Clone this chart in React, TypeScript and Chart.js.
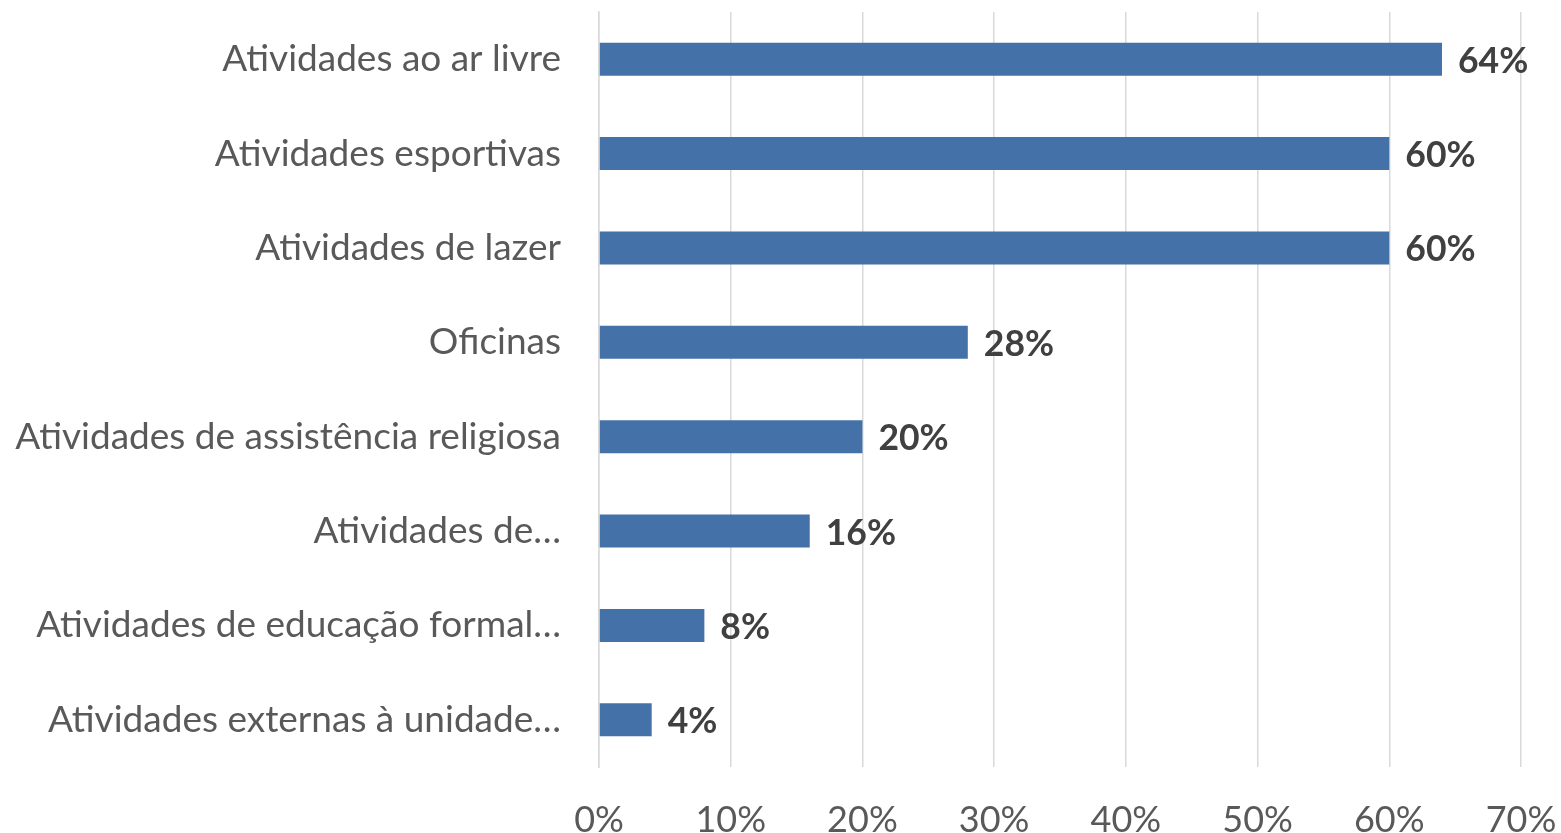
import React, { useEffect, useRef } from "react";
import { Chart, registerables } from "chart.js";

Chart.register(...registerables);

const categories: string[] = [
  "Atividades ao ar livre",
  "Atividades esportivas",
  "Atividades de lazer",
  "Oficinas",
  "Atividades de assistência religiosa",
  "Atividades de…",
  "Atividades de educação formal…",
  "Atividades externas à unidade…",
];
const values: number[] = [64, 60, 60, 28, 20, 16, 8, 4];
const tickValues: number[] = [0, 10, 20, 30, 40, 50, 60, 70];

const FONT = "Lato, 'Open Sans', sans-serif";

const dataLabelPlugin = {
  id: "dataLabels",
  afterDatasetsDraw(chart: any) {
    const ctx = chart.ctx;
    const meta = chart.getDatasetMeta(0);
    ctx.save();
    ctx.font = `bold 35.5px ${FONT}`;
    ctx.fillStyle = "#404040";
    ctx.textAlign = "left";
    ctx.textBaseline = "middle";
    meta.data.forEach((bar: any, i: number) => {
      ctx.fillText(`${values[i]}%`, bar.x + 16, bar.y + 2);
    });
    ctx.restore();
  },
};

const zeroPad = (axis: any) => {
  axis.paddingTop = 0;
  axis.paddingBottom = 0;
  axis.paddingLeft = 0;
  axis.paddingRight = 0;
};

export default function App() {
  const ref = useRef<HTMLCanvasElement | null>(null);
  useEffect(() => {
    if (!ref.current) return;
    const chart = new Chart(ref.current, {
      type: "bar",
      data: {
        labels: categories,
        datasets: [
          {
            data: values,
            backgroundColor: "#4472a8",
            barPercentage: 0.35,
            categoryPercentage: 1,
          },
        ],
      },
      options: {
        indexAxis: "y",
        animation: false,
        responsive: false,
        maintainAspectRatio: false,
        layout: { autoPadding: false, padding: { left: 0, top: 12, right: 40, bottom: 0 } },
        plugins: { legend: { display: false }, tooltip: { enabled: false } },
        scales: {
          x: {
            min: 0,
            max: 70,
            afterBuildTicks: (axis: any) => {
              axis.ticks = tickValues.map((v) => ({ value: v }));
            },
            afterFit: (axis: any) => {
              axis.height = 66;
              zeroPad(axis);
            },
            border: { display: false },
            grid: { color: "#d9d9d9", lineWidth: 1.5, drawTicks: false },
            ticks: {
              padding: 32,
              color: "#595959",
              font: { family: FONT, size: 36 },
              callback: (v: any) => `${v}%`,
              maxRotation: 0,
            },
          },
          y: {
            afterFit: (axis: any) => {
              axis.width = 599;
              zeroPad(axis);
            },
            border: { display: true, color: "#d9d9d9", width: 1.5 },
            grid: { display: false, drawTicks: false },
            ticks: {
              padding: 38,
              color: "#595959",
              font: { family: FONT, size: 37 },
            },
          },
        },
      },
      plugins: [dataLabelPlugin],
    });
    return () => chart.destroy();
  }, []);
  return (
    <div style={{ position: "fixed", left: 0, top: 0, width: 1561, height: 833, background: "#fff" }}>
      <canvas ref={ref} width={1561} height={833} style={{ width: 1561, height: 833, display: "block" }} />
    </div>
  );
}
